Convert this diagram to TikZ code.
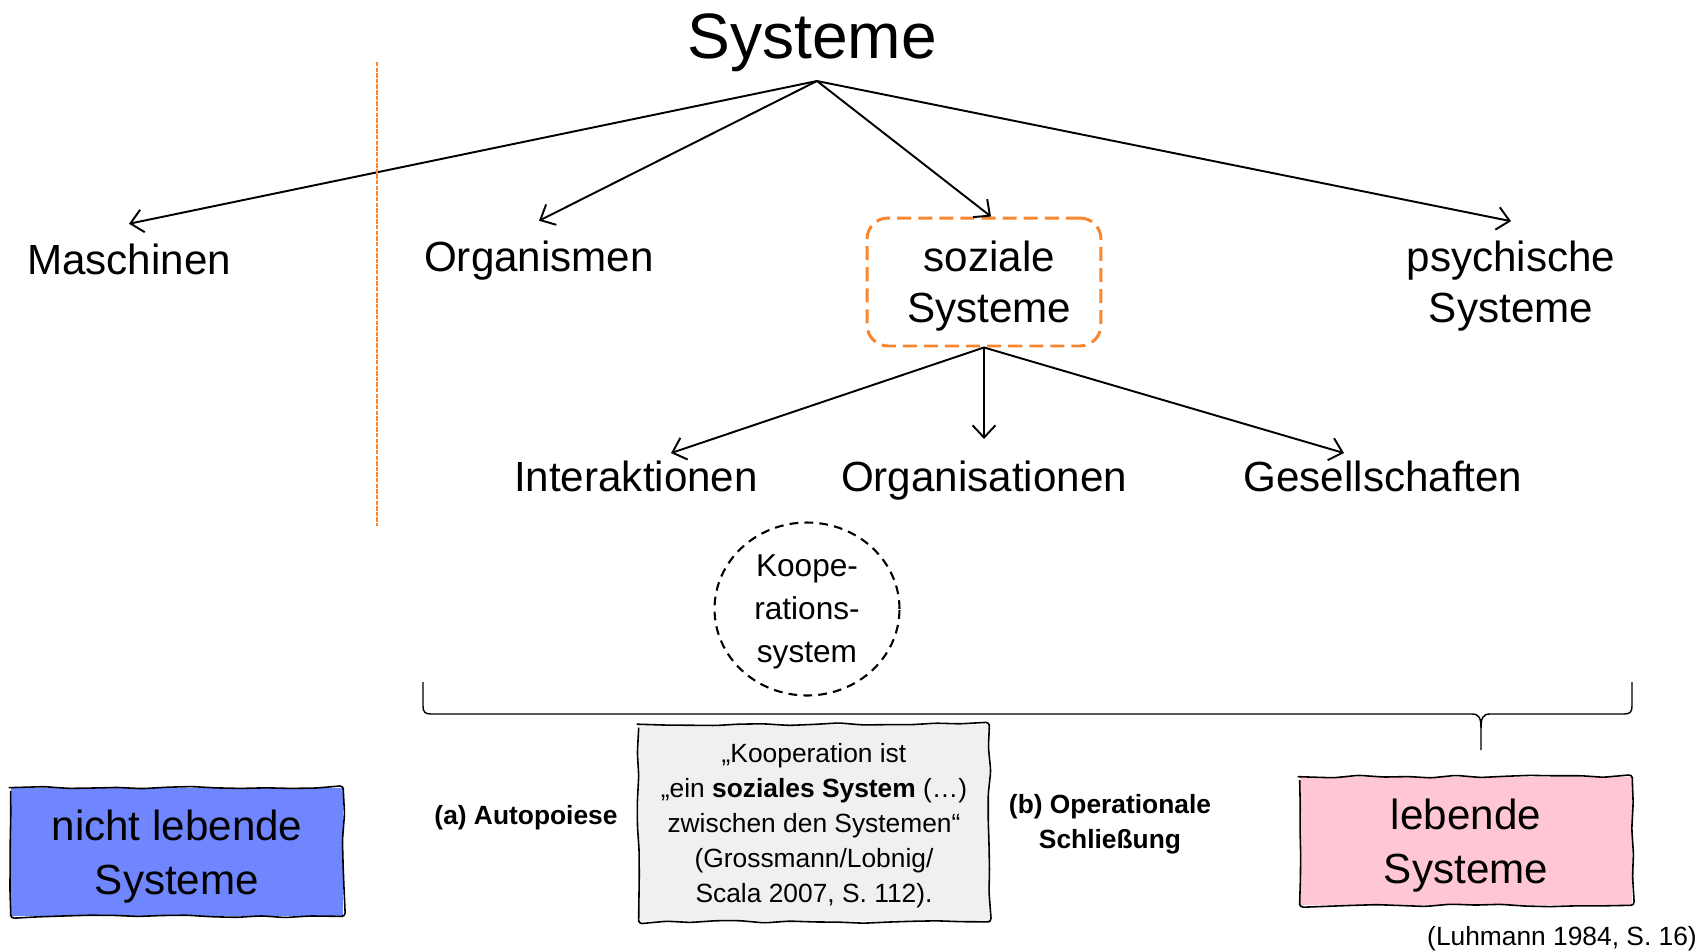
\documentclass[tikz,border=0pt]{standalone}
\usepackage{fontspec}
\setmainfont{Liberation Sans}
\usetikzlibrary{calc,positioning,arrows.meta,shapes.geometric,decorations.pathmorphing}
\usepackage{xcolor}
\definecolor{orangestrich}{HTML}{F8862E}
\definecolor{blaufill}{HTML}{7086FF}
\definecolor{rosafill}{HTML}{FFC7D5}
\definecolor{graufill}{HTML}{F0F0F0}

\begin{document}
\begin{tikzpicture}[
      x=0.02cm, y=-0.02cm,
      every node/.style={font=\fontsize{24}{29}\selectfont, align=center},
      ebene/.style={inner xsep=2pt, inner ysep=11pt},
      unterebene/.style={inner xsep=2pt, inner ysep=4pt},
      pfeil/.style={line width=1.1pt, -{Straight Barb[length=7pt,width=13pt]}},
      skizze/.style={line width=0.9pt, decorate,
        decoration={random steps, segment length=14pt, amplitude=0.8pt}, rounded corners=2pt},
      kasten/.style={minimum width=6.64cm, minimum height=2.56cm, inner sep=0pt,
        text depth=-1pt, font=\fontsize{24}{31}\selectfont},
      klein/.style={font=\fontsize{15}{20}\selectfont},
      fett/.style={font=\fontsize{15}{20}\selectfont\bfseries}
    ]
      \pgfmathsetseed{11}
      \useasboundingbox (0,0) rectangle (1704,951);

      % Oberbegriff
      \node[font=\fontsize{36.5}{40}\selectfont, anchor=base] (sys) at (812,58) {Systeme};
      \coordinate (spitze) at (817,81);

      % erste Ebene
      \node[ebene, anchor=base] (masch) at (129,274) {Maschinen};
      \node[ebene, anchor=base] (orgm) at (539,271) {Organismen};
      \node[draw=orangestrich, line width=1.7pt, dash pattern=on 8pt off 4pt,
            rounded corners=12pt, minimum width=4.68cm, minimum height=2.56cm, text depth=0pt]
            (soz) at (984,282) {\hspace*{6pt}soziale\\\hspace*{6pt}Systeme};
      \node[ebene] (psy) at (1511,286) {psychische\\Systeme};

      % zweite Ebene
      \node[unterebene, anchor=base] (inter) at (636,491) {Interaktionen};
      \node[unterebene, anchor=base] (orgn) at (984,491) {Organisationen};
      \node[unterebene, anchor=base] (ges) at (1383,491) {Gesellschaften};

      \draw[pfeil] (spitze) -- (masch.north);
      \draw[pfeil] (spitze) -- (orgm.north);
      \draw[pfeil] (spitze) -- ($(soz.north)+(7,0)$);
      \draw[pfeil] (spitze) -- (psy.north);
      \draw[pfeil] (soz.south) -- ($(inter.north)+(35,0)$);
      \draw[pfeil, shorten >=8pt] (soz.south) -- (orgn.north);
      \draw[pfeil] (soz.south) -- ($(ges.north)+(-39,0)$);

      % Trennlinie
      \coordinate (trennoben) at (377,62);
      \coordinate (trennunten) at (377,526);
      \draw[orangestrich, line width=1.1pt, dash pattern=on 2.5pt off 0.7pt] (trennoben) -- (trennunten);

      \node[ellipse, draw, line width=1.2pt, dash pattern=on 5pt off 3.5pt,
            minimum width=3.7cm, minimum height=3.46cm, inner sep=0pt, text depth=0pt,
            font=\fontsize{18}{24.5}\selectfont] (koop) at (807,609) {Koope-\\rations-\\system};

      % Klammer
      \draw[line width=0.8pt] (423,682) -- (423,706) .. controls (423,712) and (425,714) .. (431,714)
        -- (1472,714) .. controls (1479,714) and (1481,718) .. (1481,728) -- (1481,750);
      \draw[line width=0.8pt] (1481,728) .. controls (1481,718) and (1483,714) .. (1490,714)
        -- (1624,714) .. controls (1630,714) and (1632,712) .. (1632,706) -- (1632,682);

      % untere Reihe
      \node[kasten, fill=blaufill] (nicht) at (177,852) {nicht lebende\\Systeme};
      \draw[skizze] (nicht.north west) rectangle (nicht.south east);
      \node[kasten, fill=rosafill] (leb) at (1466,841) {lebende\\Systeme};
      \draw[skizze] (leb.north west) rectangle (leb.south east);
      \node[klein, fill=graufill, minimum width=7cm, minimum height=3.94cm, inner sep=0pt, text depth=0pt]
            (zitat) at (814,823) {„Kooperation ist\\„ein \textbf{soziales System} (…)\\zwischen den Systemen“\\(Grossmann/Lobnig/\\Scala 2007, S. 112).};
      \draw[skizze] (zitat.north west) rectangle (zitat.south east);

      \node[fett, anchor=base] (auto) at (526,824) {(a) Autopoiese};
      \node[fett] (schl) at (1110,824) {(b) Operationale\\Schließung};
      \node[klein, anchor=base east] (quelle) at (1703,945) {(Luhmann 1984, S. 16)};
    \end{tikzpicture}
\end{document}
